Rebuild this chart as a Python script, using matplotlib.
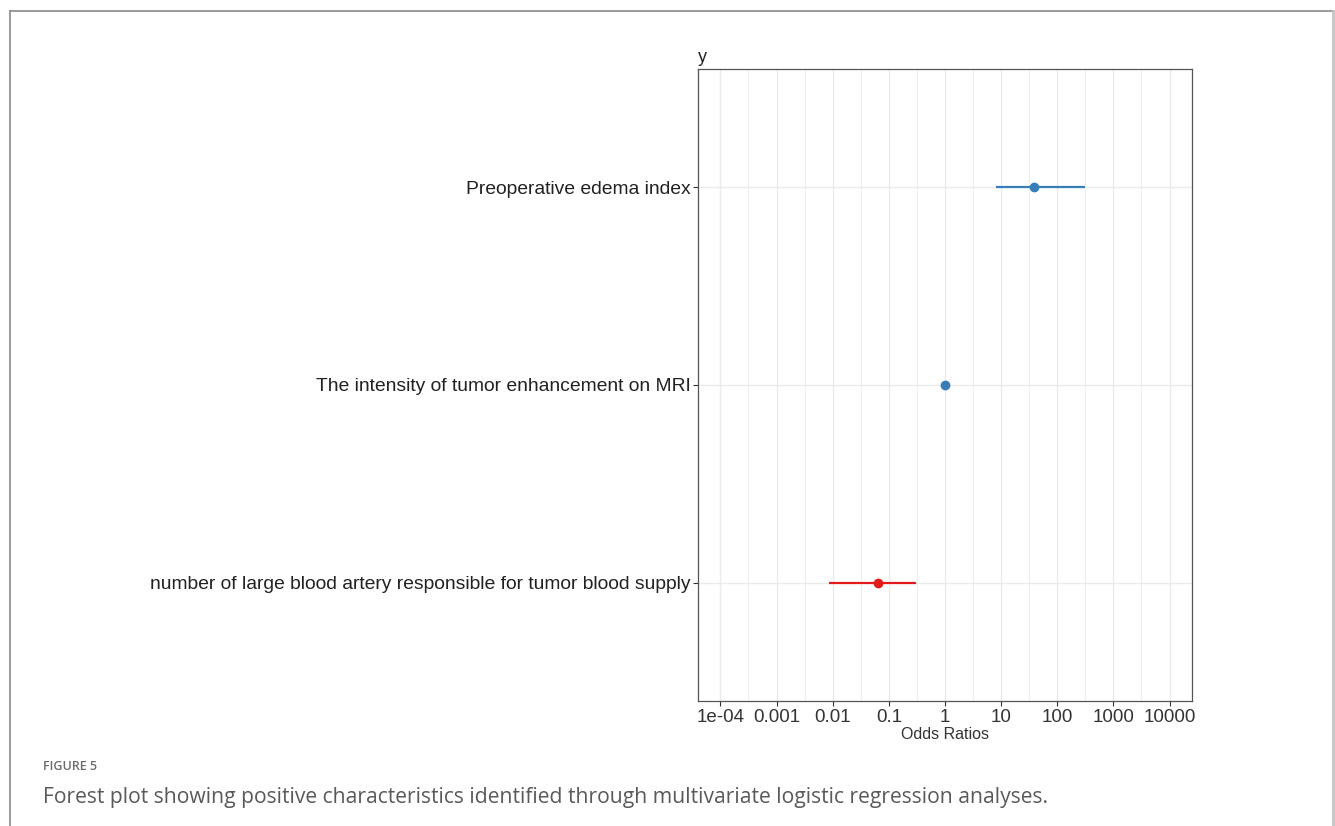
import matplotlib.pyplot as plt
import numpy as np
from matplotlib.lines import Line2D

# Multivariate logistic regression estimates (odds ratios with 95% CI)
predictors = [
    "Preoperative edema index",
    "The intensity of tumor enhancement on MRI",
    "number of large blood artery responsible for tumor blood supply",
]
odds_ratio = [38.6, 1.02, 0.064]
ci_low = [8.05, 0.98, 0.0087]
ci_high = [318.0, 1.06, 0.30]

tick_values = [1e-4, 1e-3, 1e-2, 1e-1, 1, 10, 100, 1000, 10000]
tick_labels = ["1e-04", "0.001", "0.01", "0.1", "1", "10", "100", "1000", "10000"]

POS_COLOR = "#377EB8"
NEG_COLOR = "#E41A1C"

plt.rcParams["font.family"] = ["Liberation Sans", "DejaVu Sans"]

fig = plt.figure(figsize=(13.35, 8.26), dpi=100)
ax = fig.add_axes([0.5228, 0.1513, 0.3701, 0.7652])

ypos = np.arange(len(predictors), 0, -1)
for y, est, lo, hi in zip(ypos, odds_ratio, ci_low, ci_high):
    color = POS_COLOR if est > 1 else NEG_COLOR
    ax.plot([lo, hi], [y, y], color=color, lw=1.6, solid_capstyle="butt", zorder=3)
    ax.plot(est, y, "o", color=color, ms=6, zorder=4)

ax.set_xscale("log")
ax.set_xlim(10 ** -4.4, 10 ** 4.4)
ax.set_ylim(0.4, len(predictors) + 0.6)
ax.set_xticks(tick_values)
ax.set_xticklabels(tick_labels)
ax.set_xticks(10 ** np.arange(-3.5, 4.0, 1.0), minor=True)
ax.set_yticks(ypos)
ax.set_yticklabels(predictors)

ax.grid(which="major", color="#EBEBEB", lw=1.0)
ax.grid(which="minor", axis="x", color="#EBEBEB", lw=0.6)
ax.set_axisbelow(True)
for spine in ax.spines.values():
    spine.set_color("#555555")
    spine.set_linewidth(0.9)

ax.tick_params(which="major", length=3.5, width=0.8, color="#333333", pad=2)
ax.tick_params(which="minor", length=0)
ax.tick_params(axis="x", labelsize=13.5, labelcolor="#333333")
ax.tick_params(axis="y", labelsize=13.9, labelcolor="#222222")
ax.set_xlabel("Odds Ratios", fontsize=11.5, color="#333333", labelpad=1)
ax.set_title("y", loc="left", fontsize=13, color="#222222", pad=5, x=0.0)

# page frame around the figure
frame = dict(transform=fig.transFigure, color="#8A8A8A", lw=1.2)
fig.add_artist(Line2D([10 / 1335, 10 / 1335], [0, 1 - 11 / 826], **frame))
fig.add_artist(Line2D([10 / 1335, 1], [1 - 11 / 826, 1 - 11 / 826], **frame))
fig.add_artist(Line2D([1333 / 1335, 1333 / 1335], [0, 1 - 11 / 826],
                      transform=fig.transFigure, color="#C4C4C4", lw=2))

caption_font = ["Open Sans", "DejaVu Sans"]
fig.text(43 / 1335, 1 - 767 / 826, "FIGURE 5", fontsize=9, fontweight="semibold",
         color="#6B6B6B", va="center", family=caption_font)
fig.text(43 / 1335, 1 - 797 / 826,
         "Forest plot showing positive characteristics identified through "
         "multivariate logistic regression analyses.",
         fontsize=15.2, color="#5A5A5A", va="center", family=caption_font)

fig.savefig("out.png", dpi=100)
